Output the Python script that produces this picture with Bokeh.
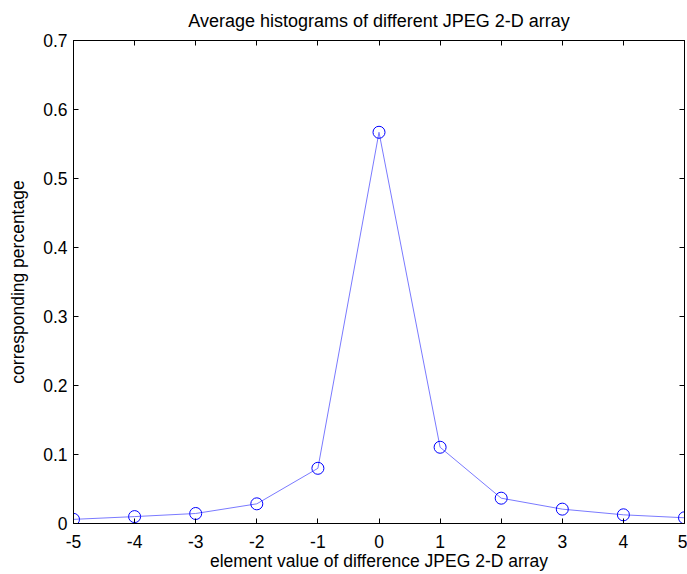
from bokeh.plotting import figure
from bokeh.models import LinearAxis, FixedTicker, Range1d
from bokeh.embed import file_html
from bokeh.resources import INLINE

x_vals = [-5, -4, -3, -2, -1, 0, 1, 2, 3, 4, 5]
pct = [0.006, 0.010, 0.0145, 0.0285, 0.080, 0.567, 0.1105, 0.0367, 0.0208, 0.0126, 0.0083]
x_ticks = [-5, -4, -3, -2, -1, 0, 1, 2, 3, 4, 5]
x_tick_labels = ["-5", "-4", "-3", "-2", "-1", "0", "1", "2", "3", "4", "5"]
y_ticks = [0, 0.1, 0.2, 0.3, 0.4, 0.5, 0.6, 0.7]
y_tick_labels = ["0", "0.1", "0.2", "0.3", "0.4", "0.5", "0.6", "0.7"]

FONT = "Liberation Sans"
FS = "17.5px"

p = figure(width=687, height=574, output_backend="svg", toolbar_location=None,
           x_range=Range1d(-5, 5), y_range=Range1d(0, 0.7),
           min_border_left=73, min_border_right=3, min_border_top=40, min_border_bottom=51,
           x_axis_label="element value of difference JPEG 2-D array",
           y_axis_label="corresponding percentage")
p.title.text = "Average histograms of different JPEG 2-D array"
p.title.align = "center"
p.title.vertical_align = "top"
p.title.text_font = FONT
p.title.text_font_size = "18px"
p.title.text_font_style = "normal"
p.title.text_color = "black"
p.title.standoff = 16
p.grid.visible = False
p.outline_line_color = "black"
p.outline_line_width = 1
p.background_fill_color = "white"
p.border_fill_color = "white"

for ax in p.xaxis:
    ax.ticker = FixedTicker(ticks=x_ticks)
    ax.major_label_overrides = {t: l for t, l in zip(x_ticks, x_tick_labels)}
for ax in p.yaxis:
    ax.ticker = FixedTicker(ticks=y_ticks)
    ax.major_label_overrides = {t: l for t, l in zip(y_ticks, y_tick_labels)}

for ax in list(p.xaxis) + list(p.yaxis):
    ax.major_tick_in = 5
    ax.major_tick_out = 0
    ax.minor_tick_in = 0
    ax.minor_tick_out = 0
    ax.major_label_text_font = FONT
    ax.major_label_text_font_size = FS
    ax.major_label_text_color = "black"
    ax.axis_label_text_font = FONT
    ax.axis_label_text_font_size = FS
    ax.axis_label_text_font_style = "normal"
    ax.axis_label_text_color = "black"
    ax.axis_line_color = "black"
    ax.major_tick_line_color = "black"

p.xaxis.major_label_standoff = 11
p.xaxis.axis_label_standoff = 0
p.yaxis.major_label_standoff = 6
p.yaxis.axis_label_standoff = 12

top = LinearAxis(ticker=FixedTicker(ticks=x_ticks), major_tick_in=5, major_tick_out=0,
                 minor_tick_in=0, minor_tick_out=0,
                 major_label_overrides={t: "" for t in x_ticks},
                 major_label_standoff=0, axis_line_color="black")
right = LinearAxis(ticker=FixedTicker(ticks=y_ticks), major_tick_in=5, major_tick_out=0,
                   minor_tick_in=0, minor_tick_out=0,
                   major_label_overrides={t: "" for t in y_ticks},
                   major_label_standoff=0, axis_line_color="black")
p.add_layout(top, "above")
p.add_layout(right, "right")

p.line(x_vals, pct, line_color="#7a7aff", line_width=1)
p.scatter(x_vals, pct, marker="circle", size=12, fill_color=None, line_color="#0000ff", line_width=1)

open("out.html", "w").write(file_html(p, INLINE))
